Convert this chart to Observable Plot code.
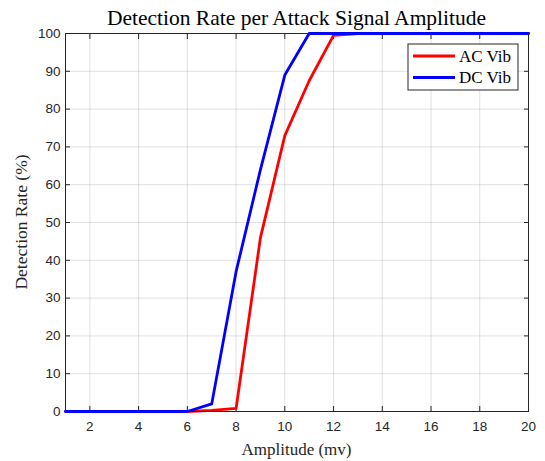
<!DOCTYPE html>
<html>
<head>
<meta charset="utf-8">
<script src="https://cdn.jsdelivr.net/npm/d3@7"></script>
<script src="https://cdn.jsdelivr.net/npm/@observablehq/plot@0.6"></script>
<style>
  html, body { margin: 0; padding: 0; background: #fff; }
</style>
</head>
<body>
<div id="chart"></div>
<script>
const amplitude = [1,2,3,4,5,6,7,8,9,10,11,12,13,14,15,16,17,18,19,20];
const acVib = [0,0,0,0,0,0,0.3,0.8,46,73,87.5,99.5,100,100,100,100,100,100,100,100];
const dcVib = [0,0,0,0,0,0,2,37,64,89,100,100,100,100,100,100,100,100,100,100];
const seriesNames = ["AC Vib", "DC Vib"];
const seriesColors = ["#ff0000", "#0000ff"];
const xTicks = [2,4,6,8,10,12,14,16,18,20];
const yTicks = [0,10,20,30,40,50,60,70,80,90,100];
const titleText = "Detection Rate per Attack Signal Amplitude";
const xLabel = "Amplitude (mv)";
const yLabel = "Detection Rate (%)";

const rows = [];
amplitude.forEach((a, i) => {
  rows.push({amp: a, rate: acVib[i], series: seriesNames[0]});
  rows.push({amp: a, rate: dcVib[i], series: seriesNames[1]});
});

const W = 545, H = 461;
const mL = 65, mR = 17, mT = 33, mB = 50;
const axisColor = "#262626";

const plot = Plot.plot({
  width: W,
  height: H,
  marginLeft: mL,
  marginRight: mR,
  marginTop: mT,
  marginBottom: mB,
  style: {fontFamily: "Liberation Sans, Arial, sans-serif", fontSize: "13.5px", color: axisColor, background: "#fff"},
  x: {domain: [1, 20], ticks: xTicks},
  y: {domain: [0, 100], ticks: yTicks},
  color: {domain: seriesNames, range: seriesColors},
  marks: [
    Plot.gridX(xTicks, {stroke: "#000", strokeOpacity: 0.12}),
    Plot.gridY(yTicks, {stroke: "#000", strokeOpacity: 0.12}),
    Plot.axisX({ticks: xTicks, tickSize: -5, tickPadding: 15, stroke: axisColor, fill: axisColor, fontSize: 13.5, label: null}),
    Plot.axisX({anchor: "top", ticks: xTicks, tickSize: -5, tickFormat: () => "", stroke: axisColor, label: null}),
    Plot.axisY({ticks: yTicks, tickSize: -5, tickPadding: 10, stroke: axisColor, fill: axisColor, fontSize: 13.5, label: null}),
    Plot.axisY({anchor: "right", ticks: yTicks, tickSize: -5, tickFormat: () => "", stroke: axisColor, label: null}),
    Plot.line(rows, {x: "amp", y: "rate", stroke: "series", strokeWidth: 2.8, curve: "linear"}),
    Plot.frame({stroke: axisColor, strokeWidth: 1})
  ]
});

const svg = d3.select(plot);
const serif = "Liberation Serif, Times New Roman, serif";
svg.append("text")
  .attr("x", mL + (W - mL - mR) / 2).attr("y", 25)
  .attr("text-anchor", "middle")
  .style("font-family", serif).style("font-size", "21.5px").attr("fill", "#000")
  .text(titleText);
svg.append("text")
  .attr("x", mL + (W - mL - mR) / 2).attr("y", H - 6)
  .attr("text-anchor", "middle")
  .style("font-family", serif).style("font-size", "17px").attr("fill", axisColor)
  .text(xLabel);
svg.append("text")
  .attr("transform", `translate(27,${mT + (H - mT - mB) / 2}) rotate(-90)`)
  .attr("text-anchor", "middle")
  .style("font-family", serif).style("font-size", "17.5px").attr("fill", axisColor)
  .text(yLabel);

// legend
const lg = svg.append("g").attr("transform", "translate(408,44)");
lg.append("rect").attr("width", 110).attr("height", 46)
  .attr("fill", "#fff").attr("stroke", axisColor).attr("stroke-width", 1);
seriesNames.forEach((name, i) => {
  const y = 12 + i * 21.5;
  lg.append("line").attr("x1", 5).attr("x2", 47).attr("y1", y).attr("y2", y)
    .attr("stroke", seriesColors[i]).attr("stroke-width", 2.8);
  lg.append("text").attr("x", 51).attr("y", y + 5.5)
    .attr("text-anchor", "start")
    .style("font-family", serif).style("font-size", "17px").attr("fill", "#000")
    .text(name);
});

document.getElementById("chart").appendChild(plot);
</script>
</body>
</html>
